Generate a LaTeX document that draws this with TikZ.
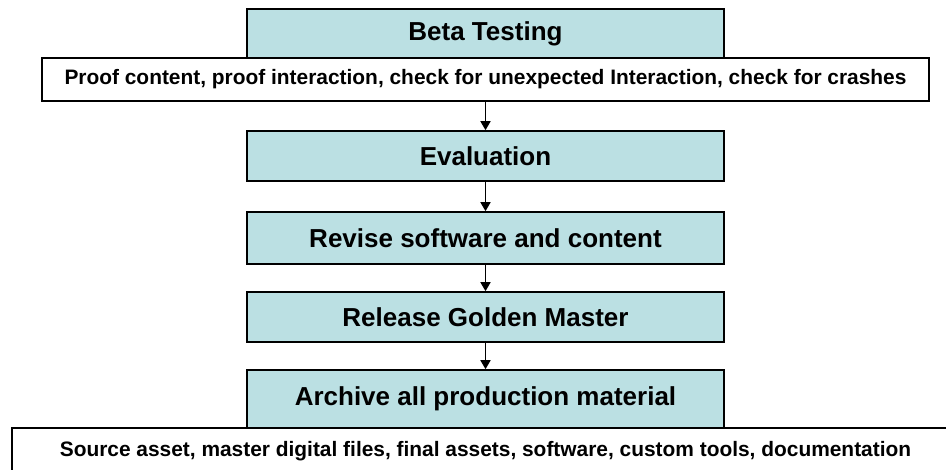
\documentclass[tikz,border=0pt]{standalone}
\usepackage{fontspec}
\setmainfont{Liberation Sans}
\usetikzlibrary{arrows.meta}
\definecolor{stagefill}{RGB}{187,224,227}
\begin{document}
\begin{tikzpicture}[x=1pt,y=-1pt,
  stage/.style={draw,line width=1.6pt,fill=stagefill,minimum width=477pt,inner sep=0pt,
    font=\fontsize{26}{30}\selectfont\bfseries},
  note/.style={draw,line width=1.6pt,fill=white,inner sep=0pt,
    font=\fontsize{20.9}{24}\selectfont\bfseries},
  flow/.style={line width=1.6pt,-{Triangle[length=9pt,width=10pt]}}]
\useasboundingbox (0,0) rectangle (946,470);
\node[stage,minimum height=49pt] (beta) at (485.5,33.5) {Beta Testing};
\node[note,minimum width=887pt,minimum height=43pt] (betanote) at (485.5,79.5) {Proof content, proof interaction, check for unexpected Interaction, check for crashes};
\node[stage,minimum height=50pt] (eval) at (485.5,156) {Evaluation};
\node[stage,minimum height=52pt] (revise) at (485.5,238) {Revise software and content};
\node[stage,minimum height=50pt] (release) at (485.5,317) {Release Golden Master};
\node[stage,minimum height=58pt] (archive) at (485.5,399) {Archive all production material};
\node[note,minimum width=947pt,minimum height=46pt] (archnote) at (485.5,451) {Source asset, master digital files, final assets, software, custom tools, documentation};
\path (betanote) edge[flow] (eval);
\path (eval) edge[flow] (revise);
\path (revise) edge[flow] (release);
\path (release) edge[flow] (archive);
\end{tikzpicture}
\end{document}
